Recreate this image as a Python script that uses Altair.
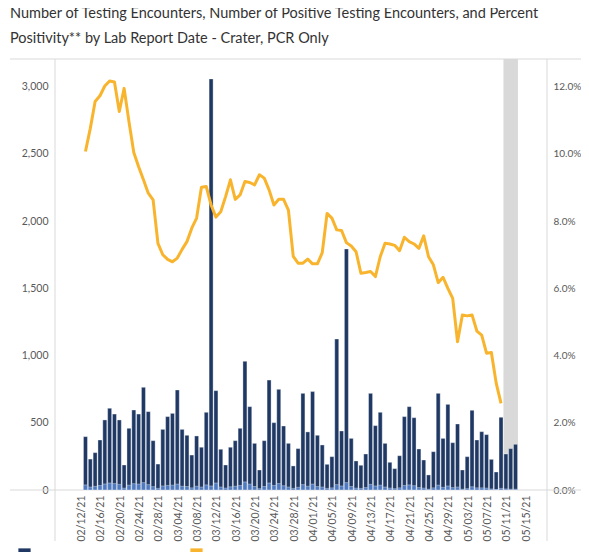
import altair as alt
import pandas as pd

# ---------------- data ----------------
dates = pd.date_range("2021-02-12", "2021-05-12", freq="D").strftime("%Y-%m-%d").tolist()

tests = [397, 230, 278, 372, 521, 608, 565, 521, 186, 459,
         595, 565, 764, 583, 367, 193, 451, 546, 570, 744,
         451, 407, 260, 402, 318, 578, 3058, 739, 303, 186,
         318, 367, 459, 957, 620, 347, 149, 367, 818, 501,
         749, 476, 347, 179, 308, 719, 432, 732, 407, 335,
         191, 248, 1123, 439, 1793, 384, 216, 184, 268, 719,
         479, 578, 347, 206, 159, 255, 546, 620, 538, 305,
         223, 112, 285, 719, 384, 637, 352, 491, 149, 248,
         593, 372, 434, 412, 228, 134, 541, 268, 308, 340]

positives = [38, 22, 27, 34, 45, 52, 48, 42, 14, 36,
             47, 44, 55, 40, 25, 12, 30, 34, 36, 44,
             28, 26, 16, 28, 22, 38, 30, 52, 22, 14,
             24, 28, 34, 60, 44, 26, 10, 26, 52, 34,
             48, 32, 22, 12, 20, 40, 28, 44, 26, 22,
             12, 16, 40, 30, 55, 26, 14, 12, 18, 42,
             30, 36, 22, 14, 10, 16, 34, 38, 32, 18,
             14, 6, 16, 36, 20, 30, 18, 22, 6, 10,
             24, 16, 16, 14, 8, 4, 12, 8, 6, 6]

# percent positivity (%), 02/12/21 .. 05/09/21
positivity_pct = [10.07, 10.76, 11.56, 11.73, 12.02, 12.17, 12.14, 11.26, 11.95, 10.96,
                  10.04, 9.62, 9.23, 8.83, 8.63, 7.34, 7.00, 6.86, 6.79, 6.90,
                  7.16, 7.39, 7.79, 8.09, 9.01, 9.03, 8.48, 8.12, 8.28, 8.73,
                  9.23, 8.65, 8.78, 9.18, 9.15, 9.08, 9.38, 9.28, 8.93, 8.48,
                  8.65, 8.65, 8.33, 6.95, 6.75, 6.75, 6.87, 6.73, 6.73, 7.06,
                  8.23, 8.09, 7.74, 7.72, 7.36, 7.26, 7.09, 6.45, 6.47, 6.50,
                  6.35, 6.94, 7.34, 7.32, 7.28, 7.12, 7.52, 7.39, 7.32, 7.19,
                  7.56, 6.94, 6.70, 6.17, 6.33, 6.00, 5.70, 4.41, 5.21, 5.18,
                  5.21, 4.73, 4.61, 4.07, 4.09, 3.18, 2.58]

tick_dates = pd.date_range("2021-02-12", "2021-05-15", freq="4D").strftime("%Y-%m-%d").tolist()
left_ticks = [0, 500, 1000, 1500, 2000, 2500, 3000]
right_ticks = [0.0, 0.02, 0.04, 0.06, 0.08, 0.10, 0.12]

band_start = ["2021-05-09T12:00:00Z"]
band_end = ["2021-05-12T12:00:00Z"]

x_start = "2021-02-06T17:30:00Z"
x_end = "2021-05-17T11:30:00Z"
left_max = 3206
right_max = 0.12824

series_names = ["Number of Testing Encounters", "Percent Positivity",
                "Number of Positive Testing Encounters"]
series_colors = ["#1f3864", "#f9b42d", "#4d79c0"]

title_lines = ["Number of Testing Encounters, Number of Positive Testing Encounters, and Percent",
               "Positivity** by Lab Report Date - Crater, PCR Only"]

FONT = "Lato"
FRAME = "#d9d9d9"


def ms(s):
    t = pd.Timestamp(s)
    if t.tzinfo is None:
        t = t.tz_localize("UTC")
    return int(t.value // 10**6)


bars_df = pd.DataFrame({"date": dates, "tests": tests, "positives": positives})
line_df = pd.DataFrame({"date": dates[:len(positivity_pct)],
                        "pct": [p / 100 for p in positivity_pct]})
band_df = pd.DataFrame({"start": band_start, "end": band_end})

x_scale = alt.Scale(type="utc", domain=[ms(x_start), ms(x_end)])
x_axis = alt.Axis(values=[ms(d) for d in tick_dates],
                  labelExpr="utcFormat(datum.value, '%m/%d/%y')",
                  labelAngle=270, title=None, labelPadding=5, labelOffset=-4,
                  labelFontSize=10.5, labelColor="#595959", labelFont=FONT,
                  domain=False, ticks=False, grid=False)

color_scale = alt.Scale(domain=series_names, range=series_colors)
legend = alt.Legend(title=None, orient="none", legendX=-37, legendY=489,
                    direction="horizontal", columns=2, gridAlign="none",
                    symbolType="square", symbolSize=150, symbolStrokeWidth=0,
                    labelFont=FONT, labelFontSize=9, labelColor="#333333",
                    labelBaseline="top", labelOffset=3, columnPadding=2,
                    labelLimit=400)

band = alt.Chart(band_df).mark_rect(color="#d9d9d9").encode(
    x=alt.X("start:T", scale=x_scale, axis=x_axis),
    x2="end:T",
)

bar_tests = alt.Chart(bars_df).transform_calculate(
    series="'" + series_names[0] + "'"
).mark_bar(width=4.0, stroke="#ffffff", strokeWidth=0.5, strokeOpacity=0.7).encode(
    x=alt.X("date:T", scale=x_scale, axis=x_axis),
    y=alt.Y("tests:Q", scale=alt.Scale(domain=[0, left_max], nice=False),
            axis=alt.Axis(values=left_ticks, labelExpr="format(datum.value, ',')",
                          title=None, orient="left",
                          labelPadding=7, labelFontSize=10.5, labelColor="#595959",
                          labelFont=FONT, domain=False, ticks=False, grid=False)),
    color=alt.Color("series:N", scale=color_scale, legend=legend),
)

bar_pos = alt.Chart(bars_df).transform_calculate(
    series="'" + series_names[2] + "'"
).mark_bar(width=4.0, stroke="#ffffff", strokeWidth=0.5, strokeOpacity=0.7).encode(
    x=alt.X("date:T", scale=x_scale, axis=x_axis),
    y=alt.Y("positives:Q", scale=alt.Scale(domain=[0, left_max], nice=False), axis=None),
    color=alt.Color("series:N", scale=color_scale, legend=legend),
)

line = alt.Chart(line_df).transform_calculate(
    series="'" + series_names[1] + "'"
).mark_line(strokeWidth=3, strokeJoin="round").encode(
    x=alt.X("date:T", scale=x_scale, axis=x_axis),
    y=alt.Y("pct:Q", scale=alt.Scale(domain=[0, right_max], nice=False),
            axis=alt.Axis(values=right_ticks, labelExpr="format(datum.value, '.1%')",
                          title=None, orient="right",
                          labelPadding=6, labelFontSize=10, labelColor="#595959",
                          labelFont=FONT, domain=False, ticks=False, grid=False)),
    color=alt.Color("series:N", scale=color_scale, legend=legend),
)

# decorative pane frame lines (as in the source dashboard)
frame_src = alt.Chart(pd.DataFrame({"k": [0]}))
top_line = frame_src.mark_rule(color=FRAME, strokeWidth=1).encode(
    x=alt.value(-45), x2=alt.value(526), y=alt.value(0))
bottom_line = frame_src.mark_rule(color=FRAME, strokeWidth=1).encode(
    x=alt.value(-45), x2=alt.value(526), y=alt.value(431))
left_line = frame_src.mark_rule(color=FRAME, strokeWidth=1).encode(
    x=alt.value(0), y=alt.value(0), y2=alt.value(482))
right_line = frame_src.mark_rule(color=FRAME, strokeWidth=1).encode(
    x=alt.value(492), y=alt.value(0), y2=alt.value(482))

chart = alt.layer(band, top_line, bottom_line, left_line, right_line,
                  bar_tests, bar_pos, line).resolve_scale(
    y="independent"
).properties(
    width=492,
    height=431,
    autosize=alt.AutoSizeParams(type="none"),
    padding={"left": 47, "top": 51, "right": 34, "bottom": 62},
    title=alt.TitleParams(text=title_lines, anchor="start", frame="group", orient="top",
                          dx=-45, offset=12, fontSize=14.5, lineHeight=25,
                          font=FONT, fontWeight="normal", color="#333333"),
).configure_view(
    stroke=None
)

chart.save("out.html", embed_options={"renderer": "svg", "actions": False})
